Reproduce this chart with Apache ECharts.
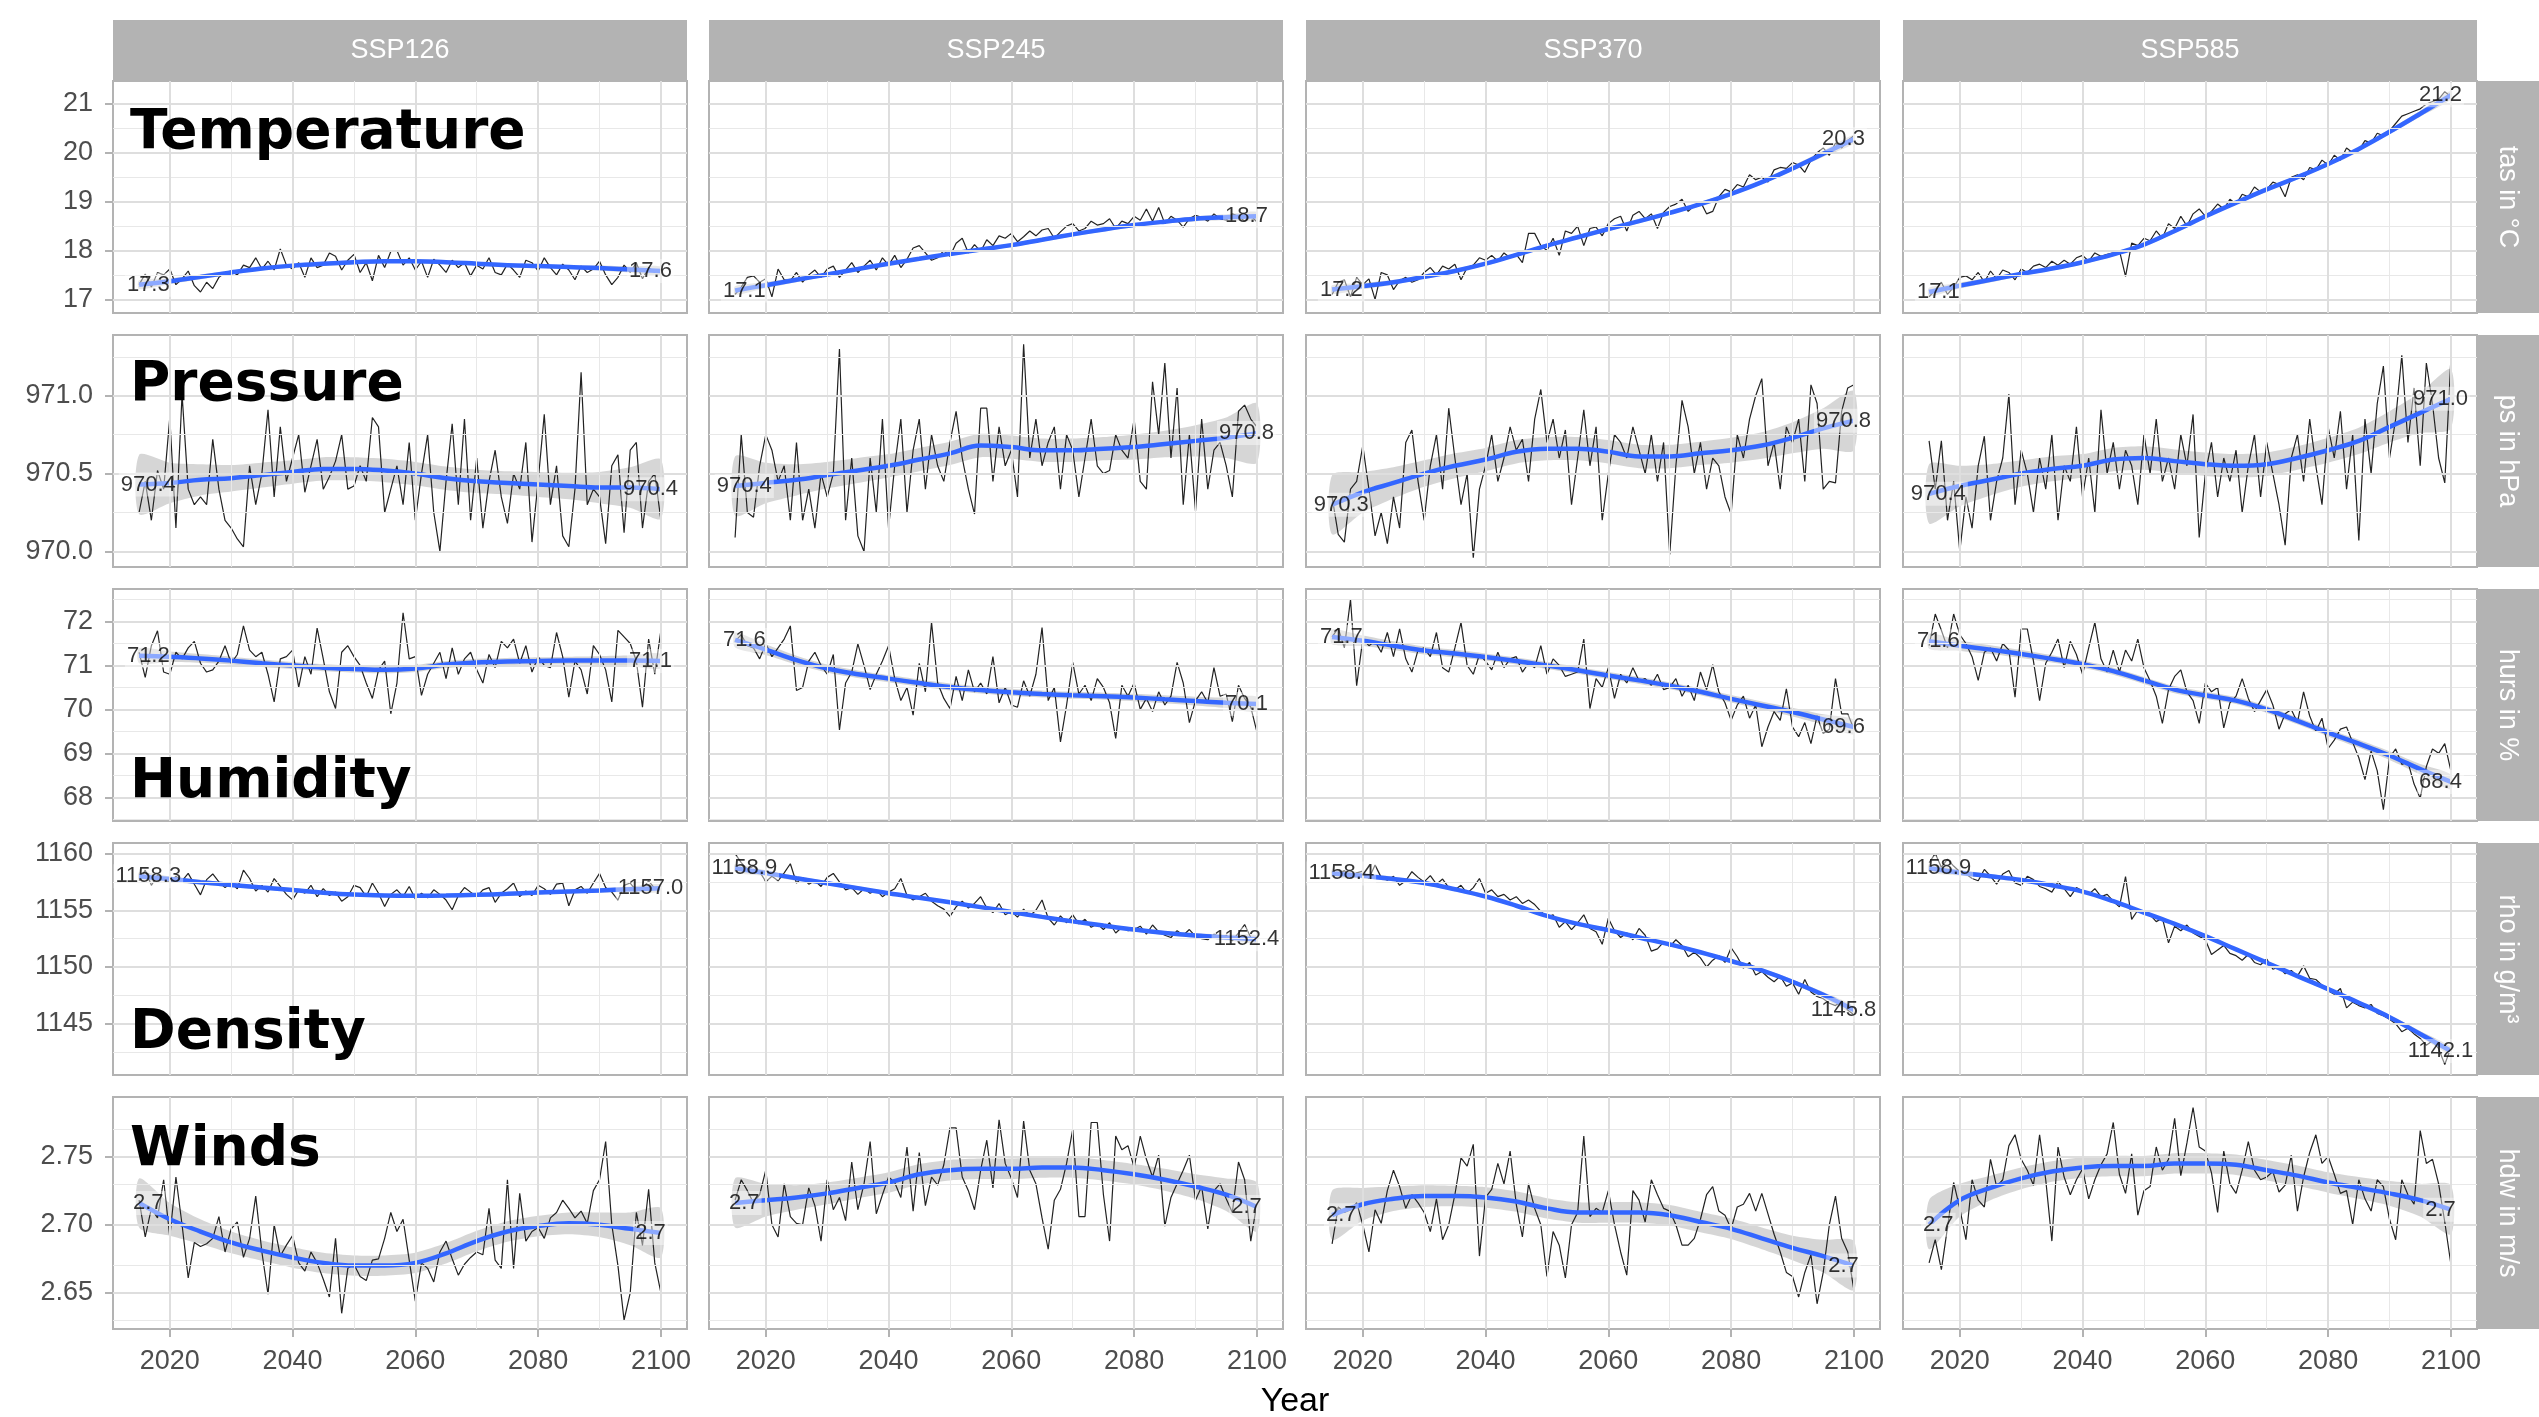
<!DOCTYPE html>
<html><head><meta charset="utf-8">
<script src="https://cdn.jsdelivr.net/npm/echarts@6/dist/echarts.min.js"></script>
<style>html,body{margin:0;padding:0;background:#fff}#c{width:2539px;height:1417px}</style>
</head><body><div id="c"></div><script>
// ---------------- DATA ----------------
const scenarios = ['SSP126','SSP245','SSP370','SSP585'];
const variables = ['Temperature','Pressure','Humidity','Density','Winds'];
const units = ['tas in °C','ps in hPa','hurs in %','rho in g/m³','hdw in m/s'];
const firstYear = 2015;
const smoothYears = [2015,2020,2025,2030,2035,2040,2045,2050,2055,2060,2065,2070,2075,2080,2085,2090,2095,2100];
const xTicks = [2020,2040,2060,2080,2100];
const xMinorTicks = [2030,2050,2070,2090];

// Temperature (tas, °C)
const tasTicks = [17,18,19,20,21];
const tasMinor = [17.5,18.5,19.5,20.5];
const tasRange = [16.72,21.47];
const tasSE = [0.09,0.06,0.05,0.04,0.04,0.04,0.04,0.04,0.04,0.04,0.04,0.04,0.04,0.04,0.04,0.05,0.06,0.09];
const tas126 = [17.30,17.52,17.25,17.55,17.50,17.62,17.30,17.42,17.58,17.28,
 17.15,17.35,17.22,17.45,17.55,17.58,17.50,17.70,17.65,17.85,
 17.62,17.78,17.60,18.03,17.70,17.62,17.75,17.45,17.85,17.65,
 17.70,17.95,17.88,17.60,17.80,17.92,17.55,17.75,17.38,17.90,
 17.65,17.98,18.00,17.70,17.85,17.60,17.78,17.45,17.82,17.70,
 17.55,17.80,17.65,17.75,17.48,17.70,17.62,17.85,17.55,17.50,
 17.72,17.60,17.45,17.80,17.75,17.58,17.85,17.65,17.50,17.72,
 17.60,17.40,17.68,17.55,17.62,17.78,17.50,17.30,17.45,17.70,
 17.55,17.75,17.42,17.65,17.55,17.60];
const tas245 = [17.10,17.25,17.45,17.48,17.35,17.42,17.05,17.62,17.40,17.38,
 17.55,17.35,17.50,17.60,17.45,17.62,17.68,17.45,17.60,17.75,
 17.55,17.68,17.80,17.60,17.85,17.70,17.90,17.65,17.82,18.05,
 18.10,17.95,17.80,17.85,18.00,17.88,18.15,18.25,17.95,18.12,
 17.98,18.22,18.10,18.30,18.25,18.35,18.18,18.28,18.40,18.30,
 18.42,18.45,18.25,18.38,18.50,18.55,18.40,18.45,18.60,18.52,
 18.55,18.65,18.45,18.60,18.55,18.70,18.62,18.85,18.60,18.88,
 18.55,18.70,18.62,18.48,18.65,18.72,18.68,18.60,18.75,18.65,
 18.62,18.75,18.70,18.60,18.72,18.58];
const tas370 = [17.10,17.35,17.40,17.05,17.45,17.30,17.42,17.00,17.55,17.50,
 17.20,17.38,17.45,17.35,17.40,17.55,17.65,17.50,17.68,17.62,
 17.72,17.40,17.65,17.70,17.85,17.80,17.90,17.78,17.95,17.85,
 17.92,17.75,18.35,18.35,18.10,18.00,18.25,17.90,18.40,18.35,
 18.50,18.10,18.45,18.48,18.30,18.55,18.65,18.70,18.40,18.72,
 18.80,18.65,18.75,18.45,18.78,18.90,18.95,19.05,18.80,18.92,
 19.00,18.75,18.80,19.10,19.25,19.20,19.35,19.30,19.55,19.45,
 19.50,19.40,19.65,19.70,19.68,19.80,19.75,19.60,19.85,20.00,
 20.10,19.95,20.20,20.10,20.25,20.35];
const tas585 = [17.05,17.20,17.35,17.10,17.25,17.45,17.48,17.40,17.55,17.35,
 17.58,17.42,17.60,17.55,17.40,17.62,17.55,17.68,17.72,17.65,
 17.78,17.70,17.80,17.72,17.85,17.90,17.78,17.95,17.88,17.92,
 17.95,18.00,17.47,18.15,18.10,18.25,18.20,18.40,18.25,18.55,
 18.45,18.70,18.50,18.75,18.85,18.70,18.80,18.95,18.85,19.05,
 18.95,19.15,19.10,19.30,19.20,19.25,19.40,19.35,19.10,19.50,
 19.55,19.45,19.70,19.65,19.85,19.75,19.95,19.85,20.10,20.00,
 20.05,20.25,20.20,20.40,20.35,20.45,20.60,20.75,20.80,20.85,
 20.90,21.00,21.05,21.10,21.25,21.15];
const tas126Smooth = [17.30,17.37,17.46,17.55,17.63,17.69,17.73,17.76,17.78,17.78,17.76,17.73,17.70,17.68,17.66,17.64,17.61,17.58];
const tas245Smooth = [17.18,17.29,17.40,17.51,17.62,17.73,17.83,17.93,18.02,18.11,18.22,18.33,18.43,18.52,18.59,18.65,18.68,18.70];
const tas370Smooth = [17.20,17.27,17.35,17.46,17.58,17.73,17.91,18.10,18.27,18.44,18.60,18.77,18.95,19.16,19.40,19.68,19.98,20.28];
const tas585Smooth = [17.15,17.28,17.40,17.52,17.63,17.76,17.92,18.12,18.40,18.70,18.98,19.25,19.50,19.77,20.08,20.43,20.80,21.18];
const tasLabels = [['17.3','17.6'],['17.1','18.7'],['17.2','20.3'],['17.1','21.2']];

// Pressure (ps, hPa)
const psTicks = [970.0,970.5,971.0];
const psMinor = [970.25,970.75,971.25];
const psRange = [969.90,971.39];
const psSE = [0.19,0.13,0.10,0.085,0.08,0.075,0.075,0.075,0.075,0.075,0.075,0.075,0.075,0.08,0.085,0.10,0.13,0.19];
const ps126 = [970.25,970.45,970.20,970.52,970.40,970.86,970.15,971.01,970.40,970.30,
 970.35,970.30,970.72,970.40,970.20,970.15,970.08,970.03,970.55,970.30,
 970.50,970.91,970.35,970.80,970.45,970.60,970.75,970.38,970.55,970.72,
 970.40,970.48,970.58,970.75,970.40,970.42,970.55,970.45,970.86,970.80,
 970.25,970.40,970.55,970.30,970.70,970.20,970.50,970.75,970.25,970.00,
 970.45,970.82,970.30,970.85,970.20,970.60,970.15,970.45,970.65,970.35,
 970.18,970.50,970.40,970.70,970.06,970.45,970.88,970.30,970.55,970.10,
 970.03,970.40,971.15,970.30,970.40,970.35,970.05,970.55,970.62,970.12,
 970.65,970.70,970.15,970.45,970.50,970.20];
const ps245 = [970.09,970.75,970.25,970.22,970.55,970.75,970.65,970.45,970.55,970.20,
 970.70,970.20,970.40,970.15,970.50,970.35,970.50,971.30,970.20,970.60,
 970.10,970.00,970.60,970.25,970.85,970.15,970.55,970.85,970.25,970.65,
 970.85,970.40,970.75,970.55,970.45,970.70,970.90,970.60,970.40,970.24,
 970.92,970.92,970.45,970.80,970.55,970.65,970.35,971.33,970.60,970.85,
 970.55,970.70,970.80,970.40,970.75,970.65,970.35,970.60,970.85,970.55,
 970.50,970.52,970.75,970.65,970.60,970.85,970.45,970.40,971.09,970.75,
 971.21,970.60,971.05,970.30,970.75,970.26,970.85,970.40,970.65,970.70,
 970.55,970.35,970.90,970.94,970.85,970.80];
const ps370 = [970.35,970.11,970.06,970.40,970.45,970.68,970.40,970.10,970.25,970.05,
 970.35,970.15,970.70,970.78,970.45,970.20,970.55,970.75,970.40,970.92,
 970.60,970.30,970.50,969.96,970.40,970.55,970.75,970.45,970.60,970.80,
 970.65,970.72,970.45,970.85,971.04,970.70,970.85,970.60,970.78,970.30,
 970.60,970.91,970.55,970.80,970.20,970.50,970.75,970.70,970.60,970.80,
 970.65,970.50,970.75,970.45,970.70,969.98,970.55,970.97,970.80,970.50,
 970.70,970.40,970.60,970.55,970.35,970.24,970.75,970.60,970.85,971.00,
 971.11,970.55,970.70,970.40,970.80,970.70,970.85,970.45,971.07,970.95,
 970.40,970.45,970.44,970.90,971.05,971.07];
const ps585 = [970.71,970.40,970.71,970.20,970.45,970.00,970.35,970.15,970.55,970.74,
 970.20,970.45,970.60,971.01,970.30,970.65,970.50,970.25,970.60,970.40,
 970.75,970.20,970.55,970.45,970.80,970.35,970.60,970.25,970.91,970.50,
 970.70,970.40,970.65,970.55,970.30,970.75,970.50,970.85,970.45,970.60,
 970.40,970.75,970.55,970.88,970.09,970.50,970.70,970.35,970.60,970.45,
 970.65,970.25,970.55,970.75,970.35,970.70,970.50,970.30,970.04,970.60,
 970.75,970.45,970.85,970.55,970.30,970.80,970.60,970.90,970.40,970.75,
 970.07,970.85,970.50,970.95,971.19,970.60,970.85,971.26,970.70,971.05,
 970.55,971.21,970.95,970.60,970.44,971.24];
const ps126Smooth = [970.43,970.44,970.46,970.47,970.49,970.51,970.53,970.53,970.52,970.50,970.47,970.45,970.44,970.43,970.42,970.41,970.41,970.40];
const ps245Smooth = [970.42,970.44,970.46,970.49,970.52,970.55,970.59,970.63,970.68,970.67,970.65,970.65,970.66,970.67,970.69,970.71,970.73,970.76];
const ps370Smooth = [970.30,970.38,970.44,970.50,970.55,970.59,970.64,970.66,970.66,970.64,970.61,970.61,970.63,970.65,970.68,970.73,970.79,970.84];
const ps585Smooth = [970.37,970.42,970.46,970.50,970.53,970.55,970.59,970.60,970.58,970.56,970.55,970.56,970.60,970.65,970.71,970.80,970.89,970.98];
const psLabels = [['970.4','970.4'],['970.4','970.8'],['970.3','970.8'],['970.4','971.0']];

// Humidity (hurs, %)
const hursTicks = [68,69,70,71,72];
const hursMinor = [67.5,68.5,69.5,70.5,71.5,72.5];
const hursRange = [67.46,72.74];
const hursSE = [0.17,0.12,0.10,0.09,0.085,0.08,0.08,0.08,0.08,0.08,0.08,0.08,0.08,0.085,0.09,0.10,0.12,0.17];
const hurs126 = [71.30,70.73,71.45,71.79,70.85,70.80,71.30,71.15,71.40,71.55,
 71.05,70.85,70.90,71.10,71.45,71.05,71.25,71.90,71.35,71.20,
 71.30,70.80,70.17,71.15,71.20,71.35,70.50,71.20,70.80,71.85,
 71.15,70.40,70.02,71.30,71.45,71.20,71.00,70.60,70.25,70.90,
 71.10,69.90,70.60,72.20,71.15,71.20,70.32,70.80,71.05,71.30,
 70.70,71.40,70.80,71.15,71.30,70.90,70.60,71.25,70.95,71.55,
 71.40,71.60,71.05,71.45,70.85,71.20,71.00,70.95,71.75,71.20,
 70.28,71.10,70.90,70.35,71.45,71.25,70.90,70.17,71.80,71.65,
 71.50,71.10,70.05,71.60,70.80,71.80];
const hurs245 = [71.55,71.70,71.45,71.40,71.15,71.50,71.20,71.40,71.60,71.90,
 70.43,70.50,71.10,71.30,71.00,70.80,71.25,69.53,70.60,70.85,
 71.49,71.00,70.45,70.80,71.10,71.45,70.70,70.20,70.50,69.87,
 71.05,70.40,71.98,70.60,70.25,70.02,70.75,70.20,70.90,70.40,
 70.60,70.35,71.20,70.15,70.50,70.10,70.05,70.65,70.30,70.80,
 71.86,70.20,70.50,69.26,70.10,71.07,70.35,70.55,70.20,70.70,
 70.50,70.15,69.34,70.55,70.30,70.60,70.00,70.25,69.95,70.40,
 70.10,70.30,71.07,70.60,69.70,70.20,70.40,70.15,70.95,70.30,
 70.35,69.72,70.55,70.25,70.05,69.49];
const hurs370 = [71.65,71.85,71.40,72.50,70.54,71.60,71.45,71.55,71.30,71.75,
 71.20,71.83,71.15,70.85,71.35,71.40,71.20,71.75,70.95,70.85,
 71.40,71.98,71.00,70.80,71.25,71.10,70.90,71.30,70.95,71.15,
 71.20,70.85,71.05,70.95,71.45,70.80,71.15,71.00,70.75,70.80,
 70.85,71.60,70.02,70.70,70.50,70.95,70.25,70.80,70.60,70.95,
 70.65,70.70,70.55,70.80,70.45,70.50,70.70,70.30,70.55,70.20,
 70.85,70.45,71.02,70.40,70.15,69.75,70.10,70.30,69.80,70.10,
 69.15,69.60,69.95,69.75,70.47,69.60,69.38,69.70,69.22,69.85,
 69.45,69.55,70.70,69.90,69.90,69.55];
const hurs585 = [71.45,72.17,71.80,71.40,72.17,71.70,71.50,71.20,70.66,71.30,
 71.40,71.10,71.50,71.35,70.28,71.83,71.83,71.10,70.20,71.05,
 71.30,71.60,70.95,71.55,71.25,70.80,71.40,71.98,71.15,70.85,
 71.35,70.85,71.35,71.10,71.60,70.95,70.65,70.30,69.68,70.45,
 70.75,70.90,70.40,70.20,69.68,70.60,70.40,70.50,69.58,70.15,
 70.30,70.70,70.25,69.95,70.20,70.45,70.10,69.55,69.90,70.00,
 69.70,70.40,69.85,69.50,69.80,69.11,69.30,69.55,69.60,69.25,
 68.90,68.40,69.05,68.60,67.72,68.90,69.10,68.75,68.80,68.30,
 67.98,68.70,69.10,69.00,69.22,68.60];
const hurs126Smooth = [71.22,71.20,71.16,71.11,71.05,71.00,70.95,70.92,70.90,70.93,71.02,71.07,71.09,71.10,71.11,71.11,71.11,71.10];
const hurs245Smooth = [71.58,71.36,71.12,70.93,70.80,70.70,70.60,70.51,70.44,70.39,70.35,70.32,70.30,70.27,70.23,70.19,70.15,70.12];
const hurs370Smooth = [71.65,71.56,71.45,71.34,71.27,71.19,71.10,71.00,70.89,70.77,70.66,70.54,70.40,70.24,70.09,69.94,69.77,69.60];
const hurs585Smooth = [71.55,71.45,71.36,71.26,71.15,71.03,70.87,70.66,70.45,70.32,70.20,70.00,69.74,69.47,69.22,68.95,68.64,68.35];
const hursLabels = [['71.2','71.1'],['71.6','70.1'],['71.7','69.6'],['71.6','68.4']];

// Density (rho, g/m³)
const rhoTicks = [1145,1150,1155,1160];
const rhoMinor = [1142.5,1147.5,1152.5,1157.5];
const rhoRange = [1140.48,1160.93];
const rhoSE = [0.35,0.25,0.2,0.18,0.17,0.16,0.16,0.16,0.16,0.16,0.16,0.16,0.16,0.17,0.18,0.2,0.25,0.35];
const rho126 = [1157.60,1158.54,1157.20,1158.10,1157.85,1157.40,1158.00,1157.60,1158.25,1157.30,
 1156.36,1157.70,1158.20,1157.50,1157.00,1157.40,1156.90,1158.54,1157.80,1156.70,
 1157.20,1156.60,1157.80,1157.10,1156.40,1155.92,1156.80,1156.50,1157.20,1156.20,
 1156.90,1156.30,1156.60,1155.80,1156.20,1157.20,1157.00,1156.20,1157.40,1156.50,
 1155.34,1156.40,1156.80,1156.20,1157.10,1156.00,1156.50,1156.10,1156.80,1156.40,
 1155.90,1155.05,1156.30,1157.00,1156.60,1156.20,1156.80,1157.00,1155.70,1156.50,
 1156.90,1157.40,1156.20,1156.70,1156.30,1157.20,1156.90,1156.40,1157.30,1157.40,
 1155.40,1156.80,1157.10,1156.50,1157.40,1158.25,1157.00,1156.60,1155.90,1157.20,
 1157.40,1156.70,1156.90,1157.60,1156.90,1157.10];
const rho245 = [1160.00,1159.20,1158.60,1158.90,1158.40,1157.52,1158.00,1157.60,1158.30,1159.10,
 1157.40,1157.90,1157.30,1157.60,1157.10,1157.90,1158.25,1157.50,1156.80,1157.00,
 1156.40,1156.90,1156.50,1156.80,1156.20,1156.60,1156.90,1157.80,1156.30,1155.90,
 1156.20,1156.50,1155.80,1155.40,1155.10,1154.46,1155.30,1155.80,1155.20,1155.60,
 1156.20,1155.20,1154.80,1155.60,1154.60,1154.90,1154.40,1155.10,1154.50,1155.00,
 1155.90,1154.30,1153.70,1154.50,1153.90,1154.60,1153.80,1154.20,1153.50,1153.80,
 1153.30,1153.90,1153.00,1153.50,1153.20,1153.30,1153.60,1152.90,1153.70,1153.10,
 1152.80,1152.60,1153.20,1152.80,1153.30,1152.70,1152.50,1152.40,1152.90,1152.60,
 1152.80,1152.30,1153.00,1153.74,1152.60,1152.50];
const rho370 = [1158.40,1158.10,1158.50,1157.90,1158.30,1158.45,1157.80,1158.98,1157.90,1157.65,
 1158.00,1157.20,1157.60,1158.40,1157.90,1157.50,1158.05,1157.30,1157.75,1157.00,
 1156.80,1157.20,1156.50,1157.00,1157.80,1156.50,1156.80,1156.20,1156.40,1155.90,
 1156.20,1155.60,1155.90,1155.50,1154.90,1154.40,1154.60,1153.50,1154.00,1153.30,
 1153.90,1154.60,1153.40,1153.10,1152.00,1154.30,1153.20,1152.60,1153.00,1152.40,
 1153.40,1152.80,1151.40,1151.60,1152.20,1151.80,1152.40,1151.90,1150.90,1151.30,
 1150.80,1150.00,1150.60,1151.00,1150.40,1151.70,1150.90,1149.90,1150.40,1149.30,
 1149.60,1149.10,1148.70,1149.20,1148.30,1148.60,1147.60,1148.90,1147.80,1147.40,
 1147.20,1146.80,1146.60,1147.00,1146.20,1145.80];
const rho585 = [1159.20,1160.00,1158.80,1159.50,1158.90,1158.40,1158.20,1157.80,1157.60,1158.60,
 1158.00,1157.30,1158.20,1158.50,1157.40,1157.20,1158.00,1157.70,1157.10,1156.90,
 1156.60,1157.50,1156.90,1156.20,1157.00,1156.70,1156.40,1156.90,1156.20,1156.40,
 1155.80,1155.30,1157.96,1154.20,1155.00,1154.80,1154.60,1154.00,1154.30,1152.13,
 1153.60,1153.20,1153.70,1153.00,1152.70,1152.40,1151.10,1151.50,1151.90,1151.20,
 1151.00,1150.60,1151.10,1150.40,1150.20,1150.70,1149.80,1150.00,1149.40,1149.70,
 1149.20,1150.10,1149.00,1148.90,1148.40,1147.90,1147.60,1148.10,1146.40,1146.90,
 1146.60,1146.40,1146.70,1145.90,1145.70,1145.40,1145.00,1144.30,1144.60,1144.10,
 1143.70,1143.10,1143.50,1142.80,1141.41,1142.90];
const rho126Smooth = [1158.00,1157.75,1157.48,1157.23,1157.00,1156.79,1156.55,1156.38,1156.30,1156.28,1156.30,1156.36,1156.45,1156.56,1156.66,1156.75,1156.85,1156.95];
const rho245Smooth = [1158.70,1158.28,1157.82,1157.38,1156.95,1156.50,1156.10,1155.70,1155.28,1154.85,1154.42,1154.02,1153.65,1153.30,1153.00,1152.77,1152.60,1152.45];
const rho370Smooth = [1158.25,1158.05,1157.75,1157.40,1156.85,1156.21,1155.40,1154.50,1153.80,1153.25,1152.60,1151.99,1151.30,1150.53,1149.70,1148.70,1147.55,1146.20];
const rho585Smooth = [1158.70,1158.31,1158.00,1157.67,1157.20,1156.65,1155.80,1154.80,1153.80,1152.72,1151.55,1150.38,1149.20,1148.05,1146.85,1145.58,1144.10,1142.60];
const rhoLabels = [['1158.3','1157.0'],['1158.9','1152.4'],['1158.4','1145.8'],['1158.9','1142.1']];

// Winds (hdw, m/s)
const hdwTicks = [2.65,2.70,2.75];
const hdwMinor = [2.625,2.675,2.725,2.775];
const hdwRange = [2.6235,2.7937];
const hdwSE = [0.018,0.012,0.009,0.008,0.0075,0.0075,0.0075,0.0075,0.0075,0.0075,0.0075,0.0075,0.0075,0.0075,0.008,0.009,0.012,0.018];
const hdw126 = [2.718,2.691,2.712,2.705,2.733,2.691,2.735,2.700,2.661,2.687,
 2.684,2.686,2.690,2.706,2.680,2.697,2.702,2.676,2.690,2.721,
 2.680,2.649,2.700,2.677,2.685,2.692,2.672,2.666,2.680,2.672,
 2.660,2.647,2.690,2.635,2.668,2.671,2.662,2.659,2.674,2.675,
 2.690,2.709,2.695,2.704,2.674,2.644,2.672,2.668,2.658,2.680,
 2.688,2.675,2.663,2.671,2.676,2.680,2.678,2.712,2.674,2.668,
 2.733,2.668,2.723,2.688,2.695,2.698,2.690,2.705,2.709,2.718,
 2.712,2.705,2.710,2.701,2.725,2.733,2.761,2.700,2.670,2.630,
 2.650,2.709,2.685,2.726,2.672,2.650];
const hdw245 = [2.718,2.733,2.725,2.716,2.722,2.740,2.700,2.691,2.730,2.706,
 2.701,2.700,2.727,2.714,2.688,2.733,2.711,2.720,2.703,2.746,
 2.711,2.730,2.761,2.708,2.722,2.735,2.731,2.720,2.757,2.710,
 2.753,2.714,2.735,2.729,2.744,2.771,2.771,2.735,2.725,2.711,
 2.740,2.762,2.727,2.777,2.745,2.734,2.720,2.776,2.740,2.730,
 2.705,2.682,2.718,2.726,2.745,2.770,2.706,2.706,2.775,2.775,
 2.722,2.688,2.765,2.755,2.758,2.742,2.765,2.748,2.735,2.751,
 2.699,2.720,2.730,2.740,2.751,2.718,2.728,2.697,2.725,2.730,
 2.719,2.709,2.746,2.733,2.688,2.716];
const hdw370 = [2.686,2.713,2.709,2.711,2.716,2.700,2.680,2.711,2.701,2.725,
 2.740,2.728,2.712,2.722,2.716,2.709,2.695,2.719,2.689,2.700,
 2.722,2.749,2.743,2.759,2.677,2.720,2.726,2.745,2.730,2.754,
 2.715,2.691,2.730,2.712,2.700,2.662,2.695,2.685,2.661,2.700,
 2.709,2.765,2.706,2.712,2.709,2.725,2.700,2.680,2.663,2.725,
 2.718,2.702,2.733,2.722,2.712,2.710,2.700,2.685,2.685,2.690,
 2.704,2.722,2.728,2.710,2.707,2.697,2.713,2.715,2.723,2.710,
 2.723,2.708,2.693,2.680,2.665,2.662,2.647,2.665,2.678,2.642,
 2.665,2.700,2.721,2.690,2.680,2.652];
const hdw585 = [2.672,2.689,2.667,2.698,2.731,2.712,2.689,2.733,2.718,2.713,
 2.748,2.728,2.733,2.758,2.766,2.748,2.740,2.729,2.766,2.733,
 2.688,2.757,2.735,2.722,2.733,2.741,2.719,2.733,2.744,2.752,
 2.775,2.737,2.723,2.752,2.707,2.725,2.728,2.757,2.740,2.748,
 2.778,2.736,2.760,2.786,2.757,2.754,2.738,2.709,2.754,2.730,
 2.723,2.740,2.761,2.740,2.733,2.735,2.739,2.724,2.729,2.751,
 2.710,2.735,2.753,2.766,2.745,2.750,2.737,2.723,2.725,2.700,
 2.733,2.719,2.710,2.733,2.728,2.704,2.689,2.733,2.722,2.715,
 2.769,2.745,2.748,2.730,2.702,2.671];
const hdw126Smooth = [2.716,2.704,2.695,2.687,2.681,2.676,2.672,2.670,2.670,2.672,2.679,2.688,2.695,2.699,2.701,2.700,2.697,2.694];
const hdw245Smooth = [2.716,2.718,2.720,2.723,2.727,2.731,2.737,2.740,2.741,2.741,2.742,2.742,2.740,2.737,2.733,2.728,2.722,2.713];
const hdw370Smooth = [2.707,2.715,2.719,2.721,2.721,2.720,2.717,2.712,2.709,2.709,2.709,2.707,2.702,2.697,2.690,2.683,2.677,2.670];
const hdw585Smooth = [2.700,2.718,2.727,2.734,2.739,2.742,2.743,2.743,2.745,2.745,2.744,2.740,2.736,2.731,2.727,2.723,2.718,2.711];
const hdwLabels = [['2.7','2.7'],['2.7','2.7'],['2.7','2.7'],['2.7','2.7']];

// ---------------- LAYOUT ----------------
const colX = [113, 709, 1306, 1903];
const panelW = 574;
const rowY = [81, 335, 589, 843, 1097];
const panelH = 232;
const xMin = 2010.75, xMax = 2104.25;
const titleCenterY = [134, 386, 783, 1034, 1151];
const labelX = [2016.5, 2098.3];

const rowDefs = [
  {ticks: tasTicks, minor: tasMinor, range: tasRange, se: tasSE, dec: 0, series: [tas126, tas245, tas370, tas585], smooth: [tas126Smooth, tas245Smooth, tas370Smooth, tas585Smooth], labels: tasLabels},
  {ticks: psTicks, minor: psMinor, range: psRange, se: psSE, dec: 1, series: [ps126, ps245, ps370, ps585], smooth: [ps126Smooth, ps245Smooth, ps370Smooth, ps585Smooth], labels: psLabels},
  {ticks: hursTicks, minor: hursMinor, range: hursRange, se: hursSE, dec: 0, series: [hurs126, hurs245, hurs370, hurs585], smooth: [hurs126Smooth, hurs245Smooth, hurs370Smooth, hurs585Smooth], labels: hursLabels},
  {ticks: rhoTicks, minor: rhoMinor, range: rhoRange, se: rhoSE, dec: 0, series: [rho126, rho245, rho370, rho585], smooth: [rho126Smooth, rho245Smooth, rho370Smooth, rho585Smooth], labels: rhoLabels},
  {ticks: hdwTicks, minor: hdwMinor, range: hdwRange, se: hdwSE, dec: 2, series: [hdw126, hdw245, hdw370, hdw585], smooth: [hdw126Smooth, hdw245Smooth, hdw370Smooth, hdw585Smooth], labels: hdwLabels}
];

const FONT = '"Liberation Sans", Arial, sans-serif';
const grids = [], xAxes = [], yAxes = [], series = [], graphics = [];

rowDefs.forEach((row, r) => {
  scenarios.forEach((sc, c) => {
    const i = grids.length;
    grids.push({left: colX[c], top: rowY[r], width: panelW, height: panelH, show: true,
      backgroundColor: '#ffffff', borderColor: '#B3B3B3', borderWidth: 2, z: 0});
    xAxes.push({type: 'value', gridIndex: i, min: xMin, max: xMax,
      axisLine: {show: false}, splitLine: {show: false},
      axisTick: {show: r === 4, customValues: xTicks, length: 8, lineStyle: {color: '#B3B3B3', width: 2}},
      axisLabel: {show: r === 4, customValues: xTicks, margin: 19, fontSize: 27, color: '#4D4D4D', fontFamily: FONT,
        formatter: v => String(Math.round(v))}});
    yAxes.push({type: 'value', gridIndex: i, min: row.range[0], max: row.range[1],
      axisLine: {show: false}, splitLine: {show: false},
      axisTick: {show: c === 0, customValues: row.ticks, length: 8, lineStyle: {color: '#B3B3B3', width: 2}},
      axisLabel: {show: c === 0, customValues: row.ticks, margin: 20, fontSize: 27, color: '#4D4D4D', fontFamily: FONT,
        formatter: v => Number(v).toFixed(row.dec)}});

    // grid lines
    const gl = [];
    row.minor.forEach(v => gl.push({yAxis: v, lineStyle: {color: '#E8E8E8', width: 1, type: 'solid'}}));
    xMinorTicks.forEach(v => gl.push({xAxis: v, lineStyle: {color: '#E8E8E8', width: 1, type: 'solid'}}));
    row.ticks.forEach(v => gl.push({yAxis: v, lineStyle: {color: '#DEDEDE', width: 2, type: 'solid'}}));
    xTicks.forEach(v => gl.push({xAxis: v, lineStyle: {color: '#DEDEDE', width: 2, type: 'solid'}}));
    series.push({type: 'line', xAxisIndex: i, yAxisIndex: i, data: [], z: 1, silent: true,
      markLine: {silent: true, symbol: ['none', 'none'], label: {show: false}, animation: false, data: gl}});

    const sm = row.smooth[c];
    const se = row.se;
    // confidence band
    series.push({type: 'custom', xAxisIndex: i, yAxisIndex: i, z: 2, silent: true, clip: true,
      data: [[smoothYears[8], sm[8]]],
      renderItem: (params, api) => {
        const up = smoothYears.map((yr, k) => api.coord([yr, sm[k] + se[k]]));
        const lo = smoothYears.map((yr, k) => api.coord([yr, sm[k] - se[k]])).reverse();
        return {type: 'polygon', shape: {points: up.concat(lo), smooth: 0.25},
          style: {fill: 'rgba(153,153,153,0.4)'}};
      }});
    // annual values
    const vals = row.series[c];
    series.push({type: 'line', xAxisIndex: i, yAxisIndex: i, z: 3, silent: true, symbol: 'none',
      data: vals.map((v, k) => [firstYear + k, v]),
      lineStyle: {color: '#222222', width: 1.2}});
    // smoothed trend
    series.push({type: 'line', xAxisIndex: i, yAxisIndex: i, z: 4, silent: true, symbol: 'none', smooth: 0.4,
      data: smoothYears.map((yr, k) => [yr, sm[k]]),
      lineStyle: {color: '#3366FF', width: 4.5}});
    // start / end labels
    const L = row.labels[c];
    series.push({type: 'scatter', xAxisIndex: i, yAxisIndex: i, z: 6, silent: true, symbolSize: 2,
      itemStyle: {color: 'rgba(0,0,0,0)'},
      data: [
        {value: [labelX[0], sm[0]], label: {formatter: L[0]}},
        {value: [labelX[1], sm[sm.length - 1]], label: {formatter: L[1]}}
      ],
      labelLayout: {hideOverlap: false},
      label: {show: true, position: 'inside', fontSize: 22, color: '#000000', fontFamily: FONT,
        backgroundColor: 'rgba(255,255,255,0.55)', padding: [1, 2]}});
  });

  // right strip
  graphics.push({type: 'rect', shape: {x: 2477, y: rowY[r], width: 62, height: panelH}, style: {fill: '#B3B3B3'}, z: 10});
  graphics.push({type: 'text', x: 2507, y: rowY[r] + panelH / 2, rotation: -Math.PI / 2, z: 11,
    style: {text: units[r], fill: '#ffffff', font: '27px ' + FONT, align: 'center', verticalAlign: 'middle'}});
  // variable title
  graphics.push({type: 'text', x: 130, y: titleCenterY[r], z: 20,
    style: {text: variables[r], fill: '#000000', font: 'bold 55px "DejaVu Sans"', align: 'left', verticalAlign: 'middle'}});
});

scenarios.forEach((sc, c) => {
  graphics.push({type: 'rect', shape: {x: colX[c], y: 20, width: panelW, height: 61}, style: {fill: '#B3B3B3'}, z: 10});
  graphics.push({type: 'text', x: colX[c] + panelW / 2, y: 51, z: 11,
    style: {text: sc, fill: '#ffffff', font: '27px ' + FONT, align: 'center', verticalAlign: 'middle'}});
});
graphics.push({type: 'text', x: 1295, y: 1402, z: 11,
  style: {text: 'Year', fill: '#000000', font: '34px ' + FONT, align: 'center', verticalAlign: 'middle'}});

const chart = echarts.init(document.getElementById('c'), null, {renderer: 'canvas', devicePixelRatio: 1});
chart.setOption({
  animation: false,
  backgroundColor: '#ffffff',
  textStyle: {fontFamily: FONT},
  grid: grids, xAxis: xAxes, yAxis: yAxes, series: series, graphic: graphics
});
</script></body></html>
